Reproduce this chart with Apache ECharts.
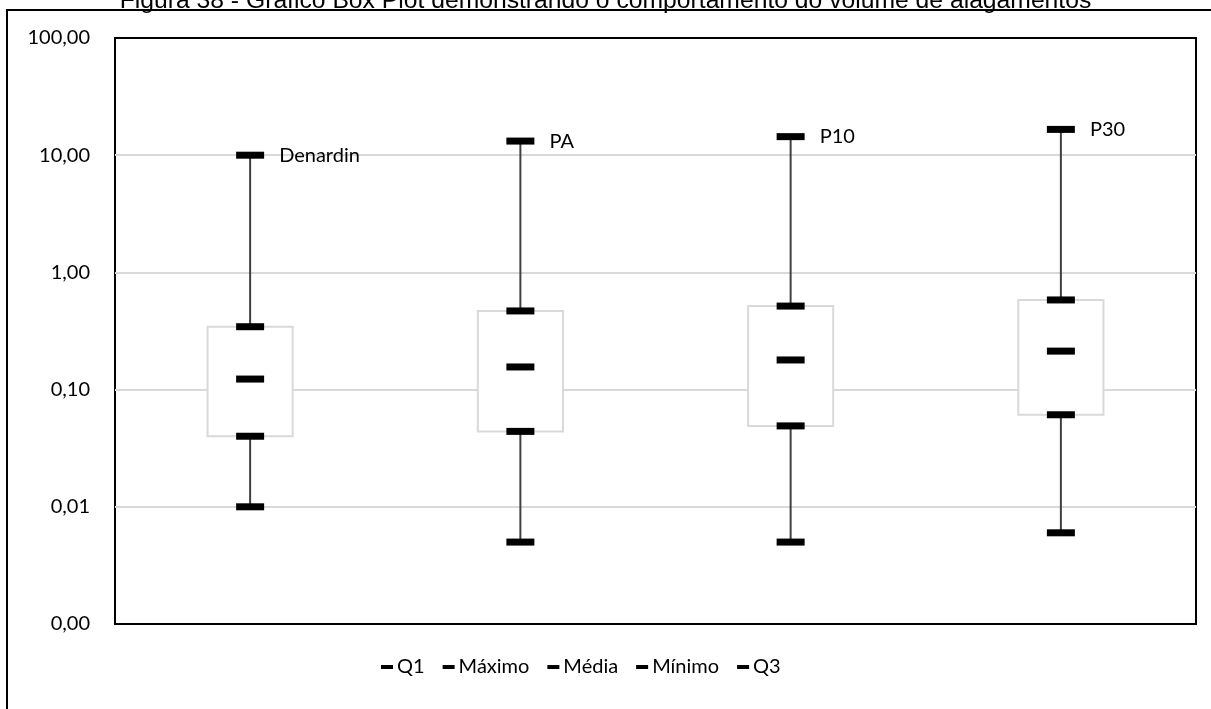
<!DOCTYPE html>
<html>
<head>
<meta charset="utf-8">
<script src="https://cdn.jsdelivr.net/npm/echarts@6/dist/echarts.min.js"></script>
<style>
html,body{margin:0;padding:0;background:#fff;}
#chart{width:1211px;height:709px;}
</style>
</head>
<body>
<div id="chart"></div>
<script>
const categories = ['Denardin', 'PA', 'P10', 'P30'];
const q1Values = [0.040, 0.044, 0.049, 0.061];
const maxValues = [10.0, 13.2, 14.4, 16.6];
const meanValues = [0.123, 0.156, 0.179, 0.213];
const minValues = [0.010, 0.005, 0.005, 0.006];
const q3Values = [0.344, 0.469, 0.516, 0.582];
const yTickLabels = ['0,00', '0,01', '0,10', '1,00', '10,00', '100,00'];
const legendNames = ['Q1', 'Máximo', 'Média', 'Mínimo', 'Q3'];

const FONT = 'Lato, "Open Sans", sans-serif';

const chart = echarts.init(document.getElementById('chart'));

const boxData = categories.map((c, i) => [i, q1Values[i], q3Values[i], minValues[i], maxValues[i]]);

function capSeries(name, values, extra) {
  return Object.assign({
    name: name,
    type: 'scatter',
    symbol: 'rect',
    symbolSize: [28, 7],
    itemStyle: { color: '#000', opacity: 1 },
    data: values,
    z: 5,
    silent: true
  }, extra || {});
}

const option = {
  animation: false,
  backgroundColor: '#fff',
  title: {
    text: 'Figura 38 - Gráfico Box Plot demonstrando o comportamento do volume de alagamentos',
    left: 'center',
    top: -16,
    textStyle: { fontFamily: '"Liberation Sans", Arial, sans-serif', fontSize: 24.7, fontWeight: 'normal', color: '#000' }
  },
  graphic: [{
    type: 'rect',
    shape: { x: 7, y: 10, width: 1400, height: 900 },
    style: { fill: 'none', stroke: '#000', lineWidth: 2 },
    silent: true,
    z: -1
  }],
  legend: {
    data: legendNames,
    top: 652,
    left: 376,
    icon: 'rect',
    itemWidth: 12,
    itemHeight: 4,
    itemGap: 18,
    itemStyle: { opacity: 1 },
    textStyle: { fontFamily: FONT, fontSize: 20, color: '#000', padding: [0, 0, 0, -1] },
    selectedMode: false
  },
  grid: {
    left: 115, right: 15, top: 38, bottom: 85,
    show: true,
    borderColor: '#000',
    borderWidth: 2,
    backgroundColor: 'transparent',
    containLabel: false
  },
  xAxis: {
    type: 'category',
    data: categories,
    axisLine: { show: false },
    axisTick: { show: false },
    axisLabel: { show: false },
    splitLine: { show: false }
  },
  yAxis: {
    type: 'log',
    logBase: 10,
    min: 0.001,
    max: 100,
    axisLine: { show: false },
    axisTick: { show: false },
    axisLabel: {
      fontFamily: FONT,
      fontSize: 20,
      color: '#000',
      margin: 25,
      formatter: function (v) {
        const idx = Math.round(Math.log10(v)) + 3;
        return yTickLabels[idx] !== undefined ? yTickLabels[idx] : v.toFixed(2).replace('.', ',');
      }
    },
    splitLine: { showMinLine: false, showMaxLine: false, lineStyle: { color: '#d9d9d9', width: 2 } }
  },
  series: [
    {
      name: 'box',
      type: 'custom',
      silent: true,
      z: 2,
      encode: { x: 0, y: [1, 2, 3, 4] },
      data: boxData,
      renderItem: function (params, api) {
        const x = api.value(0);
        const pq1 = api.coord([x, api.value(1)]);
        const pq3 = api.coord([x, api.value(2)]);
        const pmin = api.coord([x, api.value(3)]);
        const pmax = api.coord([x, api.value(4)]);
        const band = params.coordSys.width / categories.length;
        const w = band * 0.315;
        return {
          type: 'group',
          children: [
            {
              type: 'rect',
              shape: { x: pq1[0] - w / 2, y: pq3[1], width: w, height: pq1[1] - pq3[1] },
              style: { fill: '#fff', stroke: '#d9d9d9', lineWidth: 2 }
            },
            {
              type: 'line',
              shape: { x1: pmax[0], y1: pmax[1], x2: pq3[0], y2: pq3[1] },
              style: { stroke: '#404040', lineWidth: 2 }
            },
            {
              type: 'line',
              shape: { x1: pq1[0], y1: pq1[1], x2: pmin[0], y2: pmin[1] },
              style: { stroke: '#404040', lineWidth: 2 }
            }
          ]
        };
      }
    },
    capSeries('Q1', q1Values),
    capSeries('Máximo', maxValues, {
      label: {
        show: true,
        position: 'right',
        distance: 15,
        fontFamily: FONT,
        fontSize: 20,
        color: '#000',
        formatter: function (p) { return categories[p.dataIndex]; }
      }
    }),
    capSeries('Média', meanValues),
    capSeries('Mínimo', minValues),
    capSeries('Q3', q3Values)
  ]
};

chart.setOption(option);
</script>
</body>
</html>
